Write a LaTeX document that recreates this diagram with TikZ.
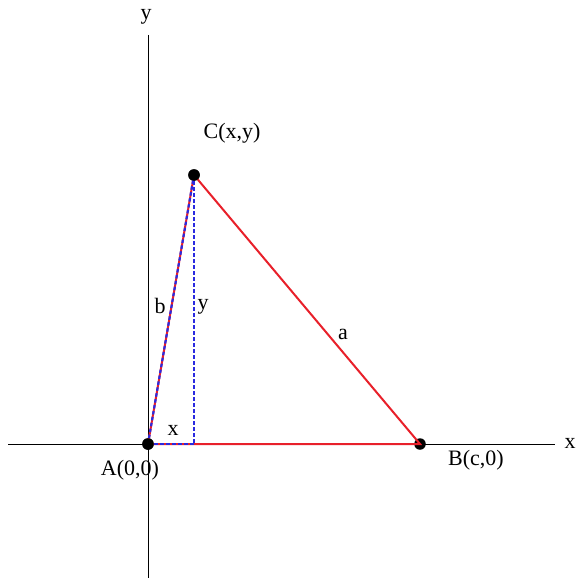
\documentclass[tikz,border=0pt]{standalone}
\usepackage{fontspec}
\setmainfont{Liberation Serif}
\usepackage{xcolor}
\usetikzlibrary{positioning, calc}
\definecolor{cSIDE}{HTML}{E8202A}
\definecolor{cPROJ}{HTML}{2A2AE0}

\begin{document}
\begin{tikzpicture}[x=1pt, y=-1pt, font=\fontsize{22}{26}\selectfont,
  axis/.style={draw=black, line width=1pt},
  side/.style={draw=cSIDE, line width=2pt},
  proj/.style={draw=cPROJ, line width=2.2pt, dash pattern=on 3.5pt off 2.5pt},
  vertex/.style={circle, fill=black, inner sep=0pt, minimum size=11.5pt},
  tag/.style={inner sep=1pt},
]
\useasboundingbox (0,0) rectangle (576,578);
% axes
\coordinate (xl) at (8,444);
\coordinate (xr) at (555,444);
\coordinate (yt) at (148,35);
\coordinate (yb) at (148,578);
\draw[axis] (xl) -- (xr);
\draw[axis] (yt) -- (yb);
\node[tag] (xlab) at (570,443) {x};
\node[tag] (ylab) at (146,17) {y};

% triangle
\node[vertex] (A) at (148,444) {};
\node[vertex] (B) at (420,444) {};
\node[vertex] (C) at (194,175) {};
\coordinate (F) at (194,444);
\draw[side] (A.center) -- (B.center) -- (C.center) -- cycle;
\draw[proj] (A.center) -- (C.center);
\draw[proj] (A.center) -- (F);
\draw[proj] (C.center) -- (F);
\node[vertex] at (A) {};
\node[vertex] at (C) {};

% labels
\node[tag] (Alab) at (130,470) {A(0,0)};
\node[tag] (Blab) at (476,460) {B(c,0)};
\node[tag] (Clab) at (232,133) {C(x,y)};
\node[tag] (alab) at (343,334) {a};
\node[tag] (blab) at (160,306) {b};
\node[tag] (ylen) at (203,307) {y};
\node[tag] (xlen) at (173,430) {x};
\end{tikzpicture}
\end{document}
